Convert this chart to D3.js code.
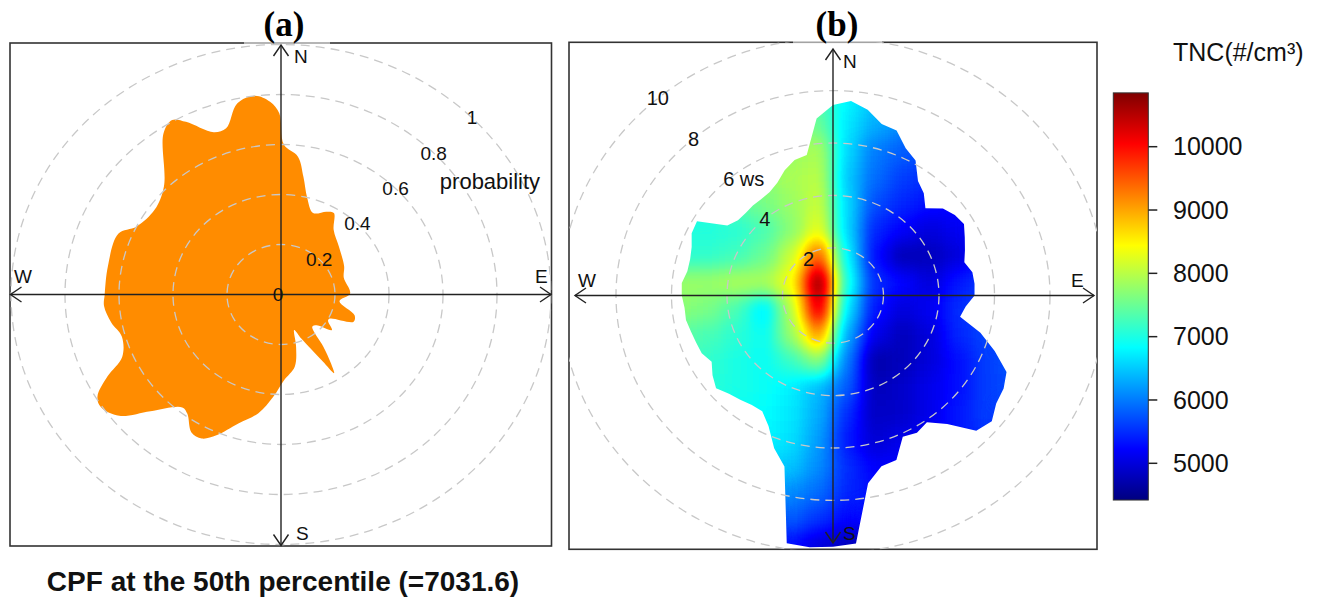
<!DOCTYPE html>
<html>
<head>
<meta charset="utf-8">
<script src="https://cdn.jsdelivr.net/npm/d3@7"></script>
<style>
  body { margin: 0; background: #fff; }
  svg { display: block; font-family: "Liberation Sans", Arial, sans-serif; }
</style>
</head>
<body>
<svg id="chart" width="1324" height="601"></svg>
<script>
// ---------- panel (a): CPF probability by wind direction ----------
const cpfDir = [1, 6.5, 10, 14, 20, 27, 31, 37, 48, 64, 74, 89, 97, 107, 112, 118, 121, 127, 133, 138,
  143, 146, 148, 150, 153, 157, 161, 165, 170, 178, 184, 190, 197, 203, 207, 211, 216, 219, 226, 231,
  236, 239, 243, 247, 254, 260, 266, 270, 280, 292, 297, 306, 315, 326, 330, 333, 339, 343, 348, 353,
  357, 359.5];
const cpfProb = [0.60, 0.555, 0.478, 0.40, 0.347, 0.372, 0.38, 0.324, 0.288, 0.26, 0.242, 0.256, 0.218, 0.285, 0.29, 0.205, 0.203, 0.236, 0.18, 0.173,
  0.26, 0.33, 0.371, 0.31, 0.245, 0.19, 0.15, 0.216, 0.293, 0.342, 0.41, 0.482, 0.54, 0.612, 0.647, 0.644, 0.59, 0.581, 0.672, 0.771,
  0.805, 0.793, 0.721, 0.639, 0.613, 0.639, 0.657, 0.653, 0.651, 0.65, 0.60, 0.578, 0.613, 0.778, 0.806, 0.775, 0.695, 0.695, 0.781, 0.801,
  0.772, 0.725];
const probRings = [0.2, 0.4, 0.6, 0.8, 1];
const probLabels = ["0.2", "0.4", "0.6", "0.8", "1"];

// ---------- panel (b): TNC by wind speed / direction ----------
const wsRings = [2, 4, 6, 8, 10];
const wsLabels = ["2", "4", "6", "8", "10"];
const gridU = [-6, -5, -4, -3, -2, -1, 0, 1, 2, 3, 4, 5, 6];            // cell west edge (ws units)
const gridV = [7, 6, 5, 4, 3, 2, 1, 0, -1, -2, -3, -4, -5, -6, -7, -8, -9, -10]; // cell south edge
const tncGrid = [
  [null, null, null, null, null, 7300, 6800, 6500, null, null, null, null, null],
  [null, null, null, null, null, 7500, 6700, 6300, 6100, null, null, null, null],
  [null, null, null, null, 7800, 7900, 6600, 6000, 5800, 5700, null, null, null],
  [null, null, null, 7700, 7900, 8000, 6500, 5900, 5600, 5500, null, null, null],
  [null, null, 7400, 7600, 7800, 8100, 6600, 5700, 5450, 5300, 5250, null, null],
  [7000, 7050, 7100, 7300, 7700, 8300, 6600, 5450, 5200, 5000, 5150, null, null],
  [7100, 7150, 7250, 7500, 8100, 9500, 6800, 5300, 4750, 4800, 5000, 5300, null],
  [7800, 7800, 7900, 7900, 8400, 10800, 7000, 5500, 5250, 5000, 5350, 5600, null],
  [7700, 7600, 7300, 6700, 8000, 10300, 6700, 5350, 5000, 5150, 5500, 5650, null],
  [7400, 7300, 7100, 6900, 7800, 9100, 6300, 5100, 4800, 5000, 5450, 5650, null],
  [null, 7150, 7000, 6900, 7200, 7700, 6000, 4700, 4800, 5000, 5300, 5600, 5750],
  [null, 7100, 7000, 6900, 6750, 6400, 5800, 4800, 4900, 5100, 5300, 5600, 5700],
  [null, null, 6900, 6850, 6700, 6300, 5500, 4850, 4900, 5100, 5350, 5600, null],
  [null, null, null, 6800, 6650, 6200, 5350, 4950, 5100, 5200, 5350, 5500, null],
  [null, null, null, 6600, 6450, 6100, 5500, 5200, 5200, null, null, null, null],
  [null, null, null, null, 6100, 5900, 5450, 5300, null, null, null, null, null],
  [null, null, null, null, 5800, 5550, 5250, null, null, null, null, null, null],
  [null, null, null, null, 5300, 5000, 4800, null, null, null, null, null, null]
];
// outer edge of the surface: wind direction (deg) and ws reached
const edgeDir = [0, 5, 10, 15, 20, 25, 30, 35, 40, 45, 50, 55, 60, 65, 70, 75, 80, 85, 90, 95, 100, 105, 110, 115,
  120, 125, 130, 135, 140, 145, 150, 155, 160, 165, 170, 175, 180, 185, 190, 195, 200, 205, 210, 215, 220, 225, 230, 235,
  240, 245, 250, 255, 260, 265, 270, 275, 280, 285, 290, 295, 300, 305, 310, 315, 320, 325, 330, 335, 340, 345, 350, 355];
const edgeWs = [7.27, 7.45, 7.2, 6.78, 6.7, 6.2, 5.95, 5.34, 5.09, 4.71, 5.17, 5.36, 5.45, 5.24, 5.06, 4.9, 5.1, 5.12, 5.1, 4.8, 4.65, 5.5, 6.2, 6.9,
  7.1, 7.18, 7.47, 7.3, 6.4, 5.9, 6.05, 5.95, 6.68, 6.75, 7.28, 9.5, 9.59, 9.65, 9.6, 6.76, 6.2, 5.5, 5.1, 5.1, 5.2, 5.3, 5.5, 5.3,
  5.05, 5.22, 5.25, 5.3, 5.38, 5.37, 5.45, 5.47, 5.33, 5.33, 5.42, 5.62, 5.66, 4.65, 4.47, 4.45, 4.49, 4.5, 4.56, 4.75, 5.09, 5.35, 5.45, 6.78];
const tncTicks = [5000, 6000, 7000, 8000, 9000, 10000];
const tncRange = [4420, 10850];
const jetColors = ["#00007F", "#0000FF", "#007FFF", "#00FFFF", "#7FFF7F", "#FFFF00", "#FF7F00", "#FF0000", "#7F0000"];

// ---------- layout ----------
const A = { cx: 281, cy: 294.5, kx: 270, ky: 250, left: 10, top: 43, right: 551.5, bottom: 546 };
const B = { cx: 833, cy: 295.5, kx: 27.75, ky: 26.2, left: 569, top: 42.3, right: 1097, bottom: 549.3 };
const ringOffset = 0.18;
const ringStyle = { stroke: "#c8c8c8", width: 1.3, dash: "9,6" };
const axisColor = "#222";

const svg = d3.select("#chart");
const defs = svg.append("defs");
const rad = d => d * Math.PI / 180;

function arrowAxes(g, P, tips) {
  const c = g.append("g").attr("stroke", axisColor).attr("stroke-width", 1.4).attr("fill", "none");
  c.append("line").attr("x1", P.cx).attr("x2", P.cx).attr("y1", tips.n).attr("y2", tips.s);
  c.append("line").attr("y1", P.cy).attr("y2", P.cy).attr("x1", tips.w).attr("x2", tips.e);
  const h = 7.5, d = 11;
  c.append("path").attr("d", `M${P.cx - h},${tips.n + d}L${P.cx},${tips.n}L${P.cx + h},${tips.n + d}`);
  c.append("path").attr("d", `M${P.cx - h},${tips.s - d}L${P.cx},${tips.s}L${P.cx + h},${tips.s - d}`);
  c.append("path").attr("d", `M${tips.w + d},${P.cy - h}L${tips.w},${P.cy}L${tips.w + d},${P.cy + h}`);
  c.append("path").attr("d", `M${tips.e - d},${P.cy - h}L${tips.e},${P.cy}L${tips.e - d},${P.cy + h}`);
}

function compass(g, pos) {
  const t = g.append("g").attr("font-size", 19).attr("fill", "#111");
  t.append("text").attr("x", pos.nx).attr("y", pos.ny).text("N");
  t.append("text").attr("x", pos.sx).attr("y", pos.sy).text("S");
  t.append("text").attr("x", pos.wx).attr("y", pos.wy).text("W");
  t.append("text").attr("x", pos.ex).attr("y", pos.ey).text("E");
}

function frame(g, P, id, title, band) {
  defs.append("clipPath").attr("id", id).append("rect")
    .attr("x", P.left).attr("y", P.top).attr("width", P.right - P.left).attr("height", P.bottom - P.top);
  g.append("rect").attr("x", P.left).attr("y", P.top).attr("width", P.right - P.left).attr("height", P.bottom - P.top)
    .attr("fill", "none").attr("stroke", "#333").attr("stroke-width", 1.6);
  g.append("rect").attr("x", band[0]).attr("y", P.top - 3).attr("width", band[1] - band[0]).attr("height", 6)
    .attr("fill", "#fff").attr("opacity", 0.55);
  g.append("text").attr("x", band[2]).attr("y", 36).attr("text-anchor", "middle")
    .attr("font-family", "'Liberation Serif', 'Times New Roman', serif").attr("font-weight", "bold")
    .attr("font-size", 35).attr("fill", "#000").text(title);
}

// ================= panel (a) =================
const xa = d3.scaleLinear().domain([-1, 1]).range([A.cx - A.kx, A.cx + A.kx]);
const ya = d3.scaleLinear().domain([-1, 1]).range([A.cy + A.ky, A.cy - A.ky]);
const ga = svg.append("g");
frame(ga, A, "clipA", "(a)", [244, 330, 284]);

const cpfPts = cpfDir.map((d, i) => [xa(cpfProb[i] * Math.sin(rad(d))), ya(cpfProb[i] * Math.cos(rad(d)))]);
ga.append("path")
  .attr("d", d3.line().curve(d3.curveCatmullRomClosed.alpha(0.5))(cpfPts))
  .attr("fill", "#FF8C00");

ga.append("g").attr("clip-path", "url(#clipA)").selectAll("ellipse").data(probRings).join("ellipse")
  .attr("cx", A.cx).attr("cy", A.cy)
  .attr("rx", d => xa(d) - xa(0)).attr("ry", d => ya(0) - ya(d))
  .attr("fill", "none").attr("stroke", ringStyle.stroke).attr("stroke-width", ringStyle.width)
  .attr("stroke-dasharray", ringStyle.dash);

arrowAxes(ga, A, { n: 45, s: 545.5, w: 10.5, e: 551 });
compass(ga, { nx: 294, ny: 63, sx: 296, sy: 540, wx: 14, wy: 283, ex: 535, ey: 283 });

ga.append("g").attr("font-size", 19).attr("fill", "#111").attr("text-anchor", "middle")
  .selectAll("text").data(probRings).join("text")
  .attr("x", d => xa(d * Math.sin(rad(45))))
  .attr("y", d => ya(d * Math.cos(rad(45))))
  .attr("dy", "0.35em")
  .text((d, i) => probLabels[i]);
ga.append("text").attr("x", xa(0) - 3).attr("y", ya(0)).attr("dy", "0.35em")
  .attr("text-anchor", "middle").attr("font-size", 19).attr("fill", "#111").text("0");
ga.append("text").attr("x", xa(0.774)).attr("y", ya(0.454)).attr("dy", "0.35em")
  .attr("text-anchor", "middle").attr("font-size", 22).attr("fill", "#111").text("probability");

svg.append("text").attr("x", 283).attr("y", 591).attr("text-anchor", "middle")
  .attr("font-weight", "bold").attr("font-size", 28).attr("fill", "#111")
  .text("CPF at the 50th percentile (=7031.6)");

// ================= panel (b) =================
const xb = d3.scaleLinear().domain([-10, 10]).range([B.cx - 10 * B.kx, B.cx + 10 * B.kx]);
const yb = d3.scaleLinear().domain([-10, 10]).range([B.cy + 10 * B.ky, B.cy - 10 * B.ky]);
const level = d3.scaleLinear().domain(tncRange).range([0, 1]).clamp(true);
const jetStops = jetColors.map((c, i) => tncRange[0] + i * (tncRange[1] - tncRange[0]) / (jetColors.length - 1));
const color = d3.scaleLinear().domain(jetStops).range(jetColors).interpolate(d3.interpolateRgb);

const gb = svg.append("g");
frame(gb, B, "clipB", "(b)", [793, 882, 837]);

// grey-level surface -> smoothed -> mapped through the jet palette
const smooth = defs.append("filter").attr("id", "smooth")
  .attr("x", "-10%").attr("y", "-10%").attr("width", "120%").attr("height", "120%")
  .attr("color-interpolation-filters", "sRGB");
smooth.append("feGaussianBlur").attr("stdDeviation", 9);
const ct = smooth.append("feComponentTransfer");
["r", "g", "b"].forEach(ch => {
  ct.append("feFunc" + ch.toUpperCase()).attr("type", "table")
    .attr("tableValues", jetColors.map(c => (d3.rgb(c)[ch] / 255).toFixed(3)).join(" "));
});
ct.append("feFuncA").attr("type", "linear").attr("slope", 40).attr("intercept", 0);

const edgePts = edgeDir.map((d, i) => [xb(edgeWs[i] * Math.sin(rad(d))), yb(edgeWs[i] * Math.cos(rad(d)))]);
defs.append("clipPath").attr("id", "edgeB").append("path")
  .attr("d", d3.line().curve(d3.curveLinearClosed)(edgePts));

const cells = [];
tncGrid.forEach((row, i) => row.forEach((v, j) => { if (v != null) cells.push({ u: gridU[j], v: gridV[i], val: v }); }));

gb.append("g").attr("clip-path", "url(#edgeB)")
  .append("g").attr("filter", "url(#smooth)")
  .selectAll("rect").data(cells).join("rect")
  .attr("x", d => xb(d.u)).attr("y", d => yb(d.v + 1))
  .attr("width", d => xb(d.u + 1) - xb(d.u) + 0.6)
  .attr("height", d => yb(d.v) - yb(d.v + 1) + 0.6)
  .attr("shape-rendering", "crispEdges")
  .attr("fill", d => { const g = Math.round(level(d.val) * 255); return `rgb(${g},${g},${g})`; });

gb.append("g").attr("clip-path", "url(#clipB)").selectAll("ellipse").data(wsRings).join("ellipse")
  .attr("cx", B.cx).attr("cy", B.cy)
  .attr("rx", d => xb(d - ringOffset) - xb(0)).attr("ry", d => yb(0) - yb(d - ringOffset))
  .attr("fill", "none").attr("stroke", ringStyle.stroke).attr("stroke-width", ringStyle.width)
  .attr("stroke-dasharray", ringStyle.dash);

arrowAxes(gb, B, { n: 49, s: 543, w: 575, e: 1094 });
compass(gb, { nx: 843, ny: 68, sx: 843, sy: 540, wx: 578, wy: 287, ex: 1071, ey: 287 });

const labAng = rad(320);
gb.append("g").attr("font-size", 20).attr("fill", "#111")
  .selectAll("text").data(wsRings).join("text")
  .attr("x", d => xb((d - ringOffset) * Math.sin(labAng)))
  .attr("y", d => yb((d - ringOffset) * Math.cos(labAng)))
  .attr("dy", "0.35em")
  .attr("text-anchor", d => d === 6 ? "start" : "middle")
  .attr("dx", d => d === 6 ? -6 : (d === 2 ? 8 : 0))
  .text((d, i) => d === 6 ? wsLabels[i] + " ws" : wsLabels[i]);

// ---------- colour key ----------
const keyY = d3.scaleLinear().domain([5000, 10000]).range([463.3, 146.7]);
const keyX = 1113.3, keyW = 35, tickLen = 9, labelX = 1173;
const grad = defs.append("linearGradient").attr("id", "jet").attr("x1", 0).attr("x2", 0).attr("y1", 1).attr("y2", 0);
grad.selectAll("stop").data(jetStops).join("stop")
  .attr("offset", (d, i) => i / (jetStops.length - 1))
  .attr("stop-color", d => color(d));
svg.append("rect").attr("x", keyX).attr("y", keyY(tncRange[1])).attr("width", keyW)
  .attr("height", keyY(tncRange[0]) - keyY(tncRange[1]))
  .attr("fill", "url(#jet)").attr("stroke", "#333").attr("stroke-width", 1);
svg.append("g").selectAll("line").data(tncTicks).join("line")
  .attr("x1", keyX + keyW).attr("x2", keyX + keyW + tickLen)
  .attr("y1", d => keyY(d)).attr("y2", d => keyY(d))
  .attr("stroke", "#222").attr("stroke-width", 1.5);
svg.append("g").selectAll("text").data(tncTicks).join("text")
  .attr("x", labelX).attr("y", d => keyY(d)).attr("dy", "0.35em")
  .attr("text-anchor", "start").attr("font-size", 25).attr("fill", "#111")
  .text(d => String(d));
svg.append("text").attr("x", labelX).attr("y", 61).attr("text-anchor", "start")
  .attr("font-size", 25).attr("fill", "#111").text("TNC(#/cm³)");
</script>
</body>
</html>
